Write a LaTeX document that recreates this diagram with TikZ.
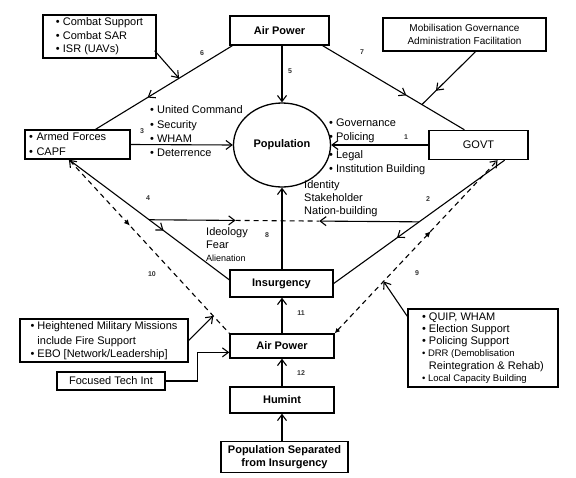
\documentclass[tikz,border=0pt]{standalone}
\usepackage{fontspec}
\setmainfont{Liberation Sans}
\usepackage{tikz}
\usetikzlibrary{shapes,arrows,positioning,shapes.geometric,calc,decorations.markings,arrows.meta}

\begin{document}
\begin{tikzpicture}[x=1pt, y=-1pt,
        box/.style={
                draw,
                line width=1.4pt,
                inner sep=2pt,
                font=\fontsize{11}{13}\selectfont,
        },
        listbox/.style={box, align=left},
        bold/.style={font=\fontsize{11}{13}\selectfont\bfseries},
        txt/.style={inner sep=0pt, align=left, font=\fontsize{11}{14.3}\selectfont},
        num/.style={inner sep=0pt, font=\fontsize{7}{7}\selectfont\bfseries, text=black!80},
        conn/.style={line width=1.1pt},
        tip/.style={-{Straight Barb[length=6pt, width=9pt, line width=1.1pt]}},
        dashline/.style={conn, dash pattern=on 5pt off 4pt},
        midtip/.style={postaction={decorate}, decoration={markings,
                mark=at position #1 with {\arrow{Straight Barb[length=6pt, width=9pt, line width=1.1pt]}}}},
        midfill/.style={postaction={decorate}, decoration={markings,
                mark=at position #1 with {\arrow{Latex[length=6pt, width=5.5pt]}}}},
        ]
    \useasboundingbox (0,0) rectangle (576,477);

    % boxes
    \node[box, bold, minimum width=99, minimum height=29] (airtop) at (279.5,30.5) {Air Power};
    \node[listbox, minimum width=113, minimum height=43, font=\fontsize{11}{13.5}\selectfont] (combat) at (99.5,36.5)
        {\textbullet\ Combat Support\\ \textbullet\ Combat SAR\\ \textbullet\ ISR (UAVs)};
    \node[box, align=center, minimum width=163, minimum height=33, font=\fontsize{10}{13}\selectfont] (mobil) at (464.5,34.5)
        {Mobilisation Governance\\ Administration Facilitation};
    \node[listbox, text width=97, inner xsep=4, minimum height=29, font=\fontsize{11}{15}\selectfont] (armed) at (77.5,144.5)
        {\textbullet\ Armed Forces\\ \textbullet\ CAPF};
    \node[box, minimum width=99, minimum height=29] (govt) at (478.5,145) {GOVT};
    \node[ellipse, draw, line width=1.3pt, bold, minimum width=97, minimum height=84] (pop) at (282,145) {Population};
    \node[box, bold, minimum width=103, minimum height=27] (insurg) at (281.5,283.5) {Insurgency};
    \node[box, bold, minimum width=104, minimum height=24] (airbot) at (282,346) {Air Power};
    \node[box, bold, minimum width=104, minimum height=26] (humint) at (282,400) {Humint};
    \node[box, bold, align=center, minimum width=127, minimum height=31] (popsep) at (284.5,457)
        {Population Separated\\ from Insurgency};
    \node[listbox, minimum width=168, minimum height=43, font=\fontsize{11}{13}\selectfont] (heighten) at (104,340.5)
        {\textbullet\ Heightened Military Missions\\[1.5pt] \phantom{\textbullet\ }include Fire Support\\ \textbullet\ EBO [Network/Leadership]};
    \node[box, minimum width=108, minimum height=18, inner ysep=1pt] (focused) at (111,381) {Focused Tech Int};
    \node[listbox, minimum width=150, minimum height=78, font=\fontsize{11}{12.2}\selectfont] (quip) at (483,348)
        {\textbullet\ QUIP, WHAM\\ \textbullet\ Election Support\\ \textbullet\ Policing Support\\
         {\fontsize{9.5}{11}\selectfont\textbullet\ DRR (Demoblisation}\\
         \phantom{\textbullet\ }Reintegration \& Rehab)\\
         {\fontsize{9.5}{11}\selectfont\textbullet\ Local Capacity Building}};

    % texts beside the links
    \node[txt, anchor=west] (cmdtxt) at (150,131.5)
        {\textbullet\ United Command\\ \textbullet\ Security\\ \textbullet\ WHAM\\ \textbullet\ Deterrence};
    \node[txt, anchor=west] (govtxta) at (329,131) {\textbullet\ Governance\\ \textbullet\ Policing};
    \node[txt, anchor=west] (govtxtb) at (329,163) {\textbullet\ Legal\\ \textbullet\ Institution Building};
    \node[txt, anchor=west, font=\fontsize{11}{13}\selectfont] (idtxt) at (304,199) {Identity\\ Stakeholder\\ Nation-building};
    \node[txt, anchor=west, font=\fontsize{11}{13}\selectfont] (ideotxt) at (206,245)
        {Ideology\\ Fear\\ {\fontsize{9}{11}\selectfont Alienation}};

    % points on the boxes
    \coordinate (air6) at ($(airtop.south west)!0.03!(airtop.south east)$);
    \coordinate (air7) at ($(airtop.south west)!0.93!(airtop.south east)$);
    \coordinate (armedtop) at ($(armed.north west)!0.67!(armed.north east)$);
    \coordinate (armedpt) at ($(armed.south west)!0.42!(armed.south east)$);
    \coordinate (govttop) at ($(govt.north west)!0.36!(govt.north east)$);
    \coordinate (govtpt) at ($(govt.south west)!0.76!(govt.south east)$);
    \coordinate (govtdash) at ($(govt.south west)!0.69!(govt.south east)$);
    \coordinate (insurgpt) at ($(insurg.north west)!0.37!(insurg.south west)$);
    \coordinate (airin) at ($(airbot.north west)!0.75!(airbot.south west)$);

    % links
    \draw[conn, midtip=0.62] (air6) -- (armedtop);
    \coordinate (j6) at ($(air6)!0.39!(armedtop)$);
    \draw[conn, tip] ([shift={(-2,-8)}]combat.south east) -- (j6);
    \draw[conn, midtip=0.59] (air7) -- (govttop);
    \coordinate (j7) at ($(air7)!0.70!(govttop)$);
    \draw[conn, midtip=0.74] ([shift={(11,0)}]mobil.south) -- (j7);
    \draw[conn, tip] (airtop.south -| pop.north) -- (pop.north);
    \draw[conn, tip] (armed.east) -- (pop.west);
    \draw[conn, tip] (govt.west) -- (pop.east);
    \draw[conn, midtip=0.59] (armedpt) -- (insurgpt);
    \draw[conn, midtip=0.63] (govtpt) -- (insurg.east);
    \coordinate (j4) at ($(armedpt)!0.5!(insurgpt)$);
    \coordinate (j2) at ($(govtpt)!0.5!(insurg.east)$);
    \coordinate (h8l) at ($(j4)!0.32!(j2)$);
    \coordinate (h8r) at ($(j4)!0.63!(j2)$);
    \draw[conn, tip] (j4) -- (h8l);
    \draw[dashline] (h8l) -- (h8r);
    \draw[conn, tip] (j2) -- (h8r);
    \draw[conn, tip] (insurg.north -| pop.south) -- (pop.south);
    \draw[dashline, {Straight Barb[length=6pt, width=9pt, line width=1.1pt]}-, midfill=0.38] (armedpt) -- (airbot.north west);
    \draw[dashline, {Latex[length=5pt, width=5pt]}-{Straight Barb[length=6pt, width=9pt, line width=1.1pt]}, midfill=0.59]
        (airbot.north east) -- (govtdash);
    \draw[conn, tip] (airbot.north) -- (airbot.north |- insurg.south);
    \draw[conn, tip] (humint.north) -- (humint.north |- airbot.south);
    \draw[conn, tip] (popsep.north -| humint) -- (humint.south);
    \coordinate (j10) at ($(armedpt)!0.9!(airbot.north west)$);
    \draw[conn, tip] (heighten.east) -- (j10);
    \draw[conn, tip] (focused.east) -- ++(32,0) |- (airin);
    \coordinate (j9) at ($(airbot.north east)!0.3!(govtdash)$);
    \draw[conn, tip] ([shift={(0,8)}]quip.north west) -- (j9);

    % link numbers
    \node[num] (n1) at (406,137) {1};
    \node[num] (n2) at (428,199) {2};
    \node[num] (n3) at (142,131) {3};
    \node[num] (n4) at (148,198) {4};
    \node[num] (n5) at (290,71) {5};
    \node[num] (n6) at (202,53) {6};
    \node[num] (n7) at (362,52) {7};
    \node[num] (n8) at (267,235) {8};
    \node[num] (n9) at (417,273) {9};
    \node[num] (n10) at (152,274) {10};
    \node[num] (n11) at (301,313) {11};
    \node[num] (n12) at (301,373) {12};
\end{tikzpicture}
\end{document}
